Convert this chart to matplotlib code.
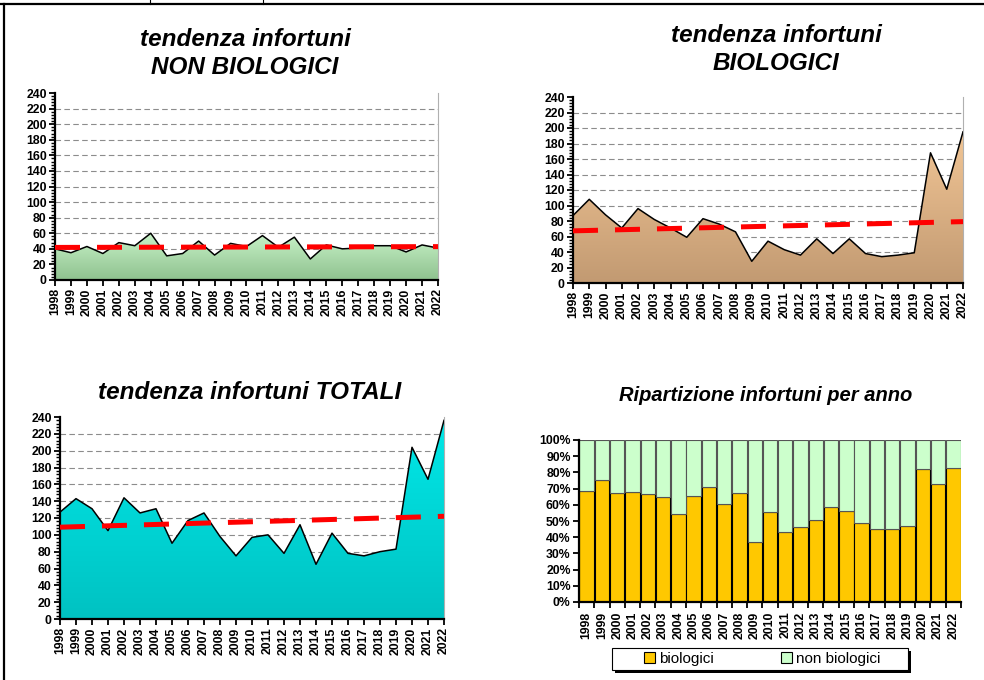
import numpy as np
import matplotlib
matplotlib.use("Agg")
import matplotlib.pyplot as plt
from matplotlib.colors import LinearSegmentedColormap
from matplotlib.ticker import MultipleLocator, FixedLocator, FuncFormatter
from matplotlib.patches import Patch, Rectangle
from matplotlib.lines import Line2D

years = [1998, 1999, 2000, 2001, 2002, 2003, 2004, 2005, 2006, 2007, 2008, 2009,
         2010, 2011, 2012, 2013, 2014, 2015, 2016, 2017, 2018, 2019, 2020, 2021, 2022]
non_bio = [40, 35, 43, 34, 48, 44, 60, 31, 34, 50, 32, 47,
           43, 57, 42, 55, 27, 45, 40, 41, 44, 44, 36, 45, 41]
bio = [87, 108, 88, 71, 96, 82, 71, 59, 83, 76, 66, 28,
       54, 43, 36, 57, 38, 57, 38, 34, 36, 39, 168, 121, 195]
totals = [127, 143, 131, 105, 144, 126, 131, 90, 117, 126, 98, 75,
          97, 100, 78, 112, 65, 102, 78, 75, 80, 83, 204, 166, 236]

plt.rcParams['font.family'] = ['Liberation Sans', 'DejaVu Sans']
plt.rcParams['font.weight'] = 'bold'

W, H = 984, 680
fig = plt.figure(figsize=(W / 100, H / 100), dpi=100)


def box(x0, y0, x1, y1):
    # pixel box (top-left origin) -> figure fraction rect
    return [x0 / W, 1 - y1 / H, (x1 - x0) / W, (y1 - y0) / H]


def area_chart(rect, y, top_col, bot_col):
    ax = fig.add_axes(rect)
    x = np.array(years)
    y = np.array(y)
    ax.set_xlim(x[0], x[-1])
    ax.set_ylim(0, 240)

    # gradient fill clipped to the area
    poly = ax.fill_between(x, y, 0, color='none', lw=0)
    cmap = LinearSegmentedColormap.from_list('g', [bot_col, top_col])
    grad = np.linspace(0, 1, 256).reshape(-1, 1)
    im = ax.imshow(grad, extent=[x[0], x[-1], 0, y.max()], origin='lower',
                   aspect='auto', cmap=cmap, zorder=1)
    im.set_clip_path(poly.get_paths()[0], transform=ax.transData)
    ax.plot(x, y, color='black', lw=1.1, zorder=3)

    # linear trend
    k, b = np.polyfit(x, y, 1)
    ax.plot(x, k * x + b, color='#ff0000', lw=3.6, dashes=(5, 3.4),
            solid_capstyle='butt', dash_capstyle='butt', zorder=4)

    for v in range(20, 240, 20):
        ax.axhline(v, color='#8c8c8c', lw=0.8, dashes=(5, 3), zorder=0)

    ax.yaxis.set_major_locator(MultipleLocator(20))
    ax.yaxis.set_minor_locator(MultipleLocator(4))
    ax.set_xticks(years)
    ax.set_xticklabels([str(v) for v in years], rotation=90)
    ax.tick_params(axis='both', which='major', direction='out', length=4,
                   width=1.3, labelsize=8.8, pad=2)
    ax.tick_params(axis='y', which='minor', direction='out', length=3, width=1)
    ax.spines['top'].set_visible(False)
    ax.spines['right'].set_color('#b0b0b0')
    ax.spines['left'].set_linewidth(1.6)
    ax.spines['bottom'].set_linewidth(1.6)
    return ax


def title(x, y, txt, size=17.5):
    fig.text(x / W, 1 - y / H, txt, ha='center', va='center',
             fontsize=size, fontweight='bold', fontstyle='italic')


area_chart(box(55, 93, 438, 280), non_bio, '#c8f2c8', '#8fc28f')
title(245, 40, 'tendenza infortuni')
title(245, 68, 'NON BIOLOGICI')

area_chart(box(573, 97, 963, 283), bio, '#f2c696', '#c29a72')
title(776, 35, 'tendenza infortuni')
title(776, 64, 'BIOLOGICI')

area_chart(box(60, 417, 444, 619), totals, '#00e8e8', '#00c2c2')
title(250, 393, 'tendenza infortuni TOTALI')

# share per year
ax = fig.add_axes(box(579, 440, 961, 602))
pos = np.arange(len(years))
tot = np.array(bio) + np.array(non_bio)
share_bio = np.array(bio) / tot
share_non = np.array(non_bio) / tot
ax.bar(pos, share_bio, width=0.94, color='#ffc800', edgecolor='black', lw=0.8)
ax.bar(pos, share_non, bottom=share_bio, width=0.94, color='#ccffcc',
       edgecolor='#555555', lw=0.8)
ax.set_xlim(-0.5, len(years) - 0.5)
ax.set_ylim(0, 1)
ax.yaxis.set_major_locator(MultipleLocator(0.1))
ax.yaxis.set_major_formatter(FuncFormatter(lambda v, p: f"{v * 100:.0f}%"))
ax.xaxis.set_major_locator(FixedLocator(np.arange(-0.5, len(years), 1.0)))
ax.xaxis.set_major_formatter(FuncFormatter(lambda v, p: ''))
ax.xaxis.set_minor_locator(FixedLocator(pos))
ax.xaxis.set_minor_formatter(FuncFormatter(lambda v, p: str(years[int(round(v))])))
ax.tick_params(axis='x', which='minor', length=0, labelsize=8.8, rotation=90, pad=7)
ax.tick_params(axis='both', which='major', direction='out', length=4,
               width=1.3, labelsize=8.8, pad=2)
for s in ['top', 'right']:
    ax.spines[s].set_visible(False)
ax.spines['left'].set_linewidth(1.6)
ax.spines['bottom'].set_linewidth(1.6)
title(766, 395, 'Ripartizione infortuni per anno', size=14.5)

# legend box with shadow, drawn by hand for the wide side padding
lx0, ly0, lx1, ly1 = 612, 648, 908, 670
fig.add_artist(Rectangle(((lx0 + 3) / W, 1 - (ly1 + 3) / H),
                         (lx1 - lx0) / W, (ly1 - ly0) / H, transform=fig.transFigure,
                         facecolor='black', edgecolor='none', zorder=1))
fig.add_artist(Rectangle((lx0 / W, 1 - ly1 / H), (lx1 - lx0) / W, (ly1 - ly0) / H,
                         transform=fig.transFigure, facecolor='white',
                         edgecolor='black', lw=0.8, zorder=2))
handles = [Patch(facecolor='#ffc800', edgecolor='black', lw=0.8),
           Patch(facecolor='#ccffcc', edgecolor='black', lw=0.8)]
leg = fig.legend(handles, ['biologici', 'non biologici'], loc='center',
                 bbox_to_anchor=(762 / W, 1 - 659 / H), ncol=2,
                 prop={'weight': 'normal', 'size': 11},
                 handlelength=0.75, handleheight=0.75, handletextpad=0.25,
                 columnspacing=4.4, borderpad=0.2, borderaxespad=0,
                 frameon=False)
leg.set_zorder(3)

# page frame
fig.add_artist(Line2D([0, 1], [1 - 4 / H] * 2, transform=fig.transFigure,
                      color='black', lw=1.6))
fig.add_artist(Line2D([4 / W] * 2, [0, 1 - 4 / H], transform=fig.transFigure,
                      color='black', lw=1.6))
for xp in [150, 263]:
    fig.add_artist(Line2D([xp / W] * 2, [1 - 4 / H, 1], transform=fig.transFigure,
                          color='black', lw=0.8))

fig.savefig('out.png', dpi=100)
